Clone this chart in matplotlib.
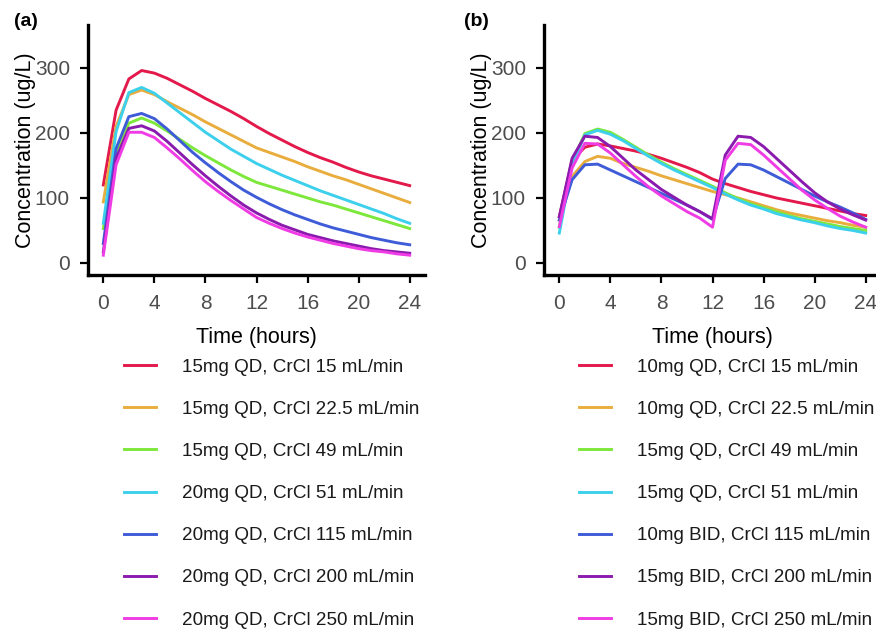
import matplotlib
matplotlib.use("Agg")
import matplotlib.pyplot as plt

plt.rcParams['font.family'] = ['Liberation Sans', 'DejaVu Sans']

# time grid (hours)
times = list(range(25))

# panel (a) - simulated profiles
labels_a = ["15mg QD, CrCl 15 mL/min", "15mg QD, CrCl 22.5 mL/min", "15mg QD, CrCl 49 mL/min",
            "20mg QD, CrCl 51 mL/min", "20mg QD, CrCl 115 mL/min", "20mg QD, CrCl 200 mL/min",
            "20mg QD, CrCl 250 mL/min"]
a_red = [120, 235, 283, 296, 292, 284, 274, 264, 253, 243, 233, 222, 210, 199, 189, 179, 170, 162, 155, 147, 140, 134, 129, 124, 119]
a_orange = [94, 210, 259, 266, 259, 248, 238, 228, 217, 207, 197, 187, 177, 170, 163, 156, 148, 141, 134, 128, 121, 114, 107, 100, 93]
a_green = [53, 171, 215, 223, 215, 203, 190, 177, 165, 154, 143, 133, 124, 118, 112, 106, 100, 94, 89, 83, 77, 71, 65, 59, 53]
a_cyan = [61, 202, 262, 270, 261, 246, 231, 216, 201, 188, 175, 164, 153, 144, 135, 127, 119, 111, 104, 97, 90, 83, 76, 68, 61]
a_blue = [30, 176, 225, 230, 222, 206, 188, 170, 154, 139, 125, 112, 101, 91, 82, 74, 67, 60, 54, 49, 44, 39, 35, 31, 28]
a_purple = [17, 161, 207, 211, 203, 187, 169, 151, 134, 118, 103, 89, 77, 67, 58, 51, 44, 39, 34, 30, 26, 22, 19, 17, 15]
a_magenta = [12, 151, 201, 201, 193, 177, 160, 142, 125, 110, 96, 83, 70, 61, 53, 46, 40, 35, 30, 26, 22, 19, 17, 14, 12]

# panel (b) - adjusted regimens
labels_b = ["10mg QD, CrCl 15 mL/min", "10mg QD, CrCl 22.5 mL/min", "15mg QD, CrCl 49 mL/min",
            "15mg QD, CrCl 51 mL/min", "10mg BID, CrCl 115 mL/min", "15mg BID, CrCl 200 mL/min",
            "15mg BID, CrCl 250 mL/min"]
b_red = [71, 158, 178, 183, 180, 176, 172, 167, 161, 154, 147, 139, 129, 122, 116, 110, 105, 100, 96, 92, 88, 84, 80, 76, 73]
b_orange = [66, 133, 156, 164, 161, 153, 147, 141, 134, 128, 122, 116, 110, 105, 100, 94, 88, 82, 77, 73, 69, 65, 62, 58, 55]
b_green = [55, 155, 199, 206, 201, 190, 178, 166, 155, 145, 136, 127, 118, 108, 99, 91, 85, 79, 73, 68, 64, 60, 56, 53, 50]
b_cyan = [46, 150, 197, 204, 198, 188, 176, 164, 153, 143, 134, 125, 116, 106, 97, 89, 83, 76, 71, 66, 62, 57, 53, 50, 46]
b_blue = [66, 128, 151, 152, 143, 134, 125, 116, 107, 98, 89, 79, 67, 130, 152, 151, 143, 133, 123, 113, 103, 94, 86, 77, 67]
b_purple = [71, 161, 195, 193, 179, 161, 143, 128, 113, 101, 89, 79, 68, 166, 195, 193, 179, 161, 143, 125, 108, 94, 83, 74, 66]
b_magenta = [56, 146, 184, 183, 169, 151, 133, 117, 103, 91, 79, 69, 55, 158, 184, 182, 166, 148, 130, 112, 97, 84, 72, 63, 55]

colors = ['#E3194B', '#E9AD3D', '#7DE83B', '#3DD0EC', '#3F5CD8', '#8A1BAE', '#F03CE4']

fig = plt.figure(figsize=(8.76, 6.32), dpi=100)
W, H = 876.0, 632.0

def make_axes(left_px, series, labels, tag, tag_x, leg_x):
    ax = fig.add_axes([left_px / W, 1 - 275 / H, 337 / W, 250 / H])
    for s, lab, c in zip(series, labels, colors):
        ax.plot(times, s, color=c, lw=2.1, label=lab)
    ax.set_xlim(-1.2, 25.2)
    ax.set_ylim(-18.5, 366)
    ax.set_xticks([0, 4, 8, 12, 16, 20, 24])
    ax.set_yticks([0, 100, 200, 300])
    for side in ['top', 'right']:
        ax.spines[side].set_visible(False)
    for side in ['left', 'bottom']:
        ax.spines[side].set_linewidth(2.4)
        ax.spines[side].set_color('black')
    ax.tick_params(axis='both', length=6, width=1.6, color='black',
                   labelsize=15, labelcolor='#4D4D4D')
    ax.tick_params(axis='y', pad=7)
    ax.tick_params(axis='x', pad=8)
    ax.set_xlabel('Time (hours)', fontsize=15.5, color='black')
    ax.set_ylabel('Concentration (ug/L)', fontsize=15.5, color='black')
    ax.yaxis.set_label_coords(-0.155, 0.5)
    ax.xaxis.set_label_coords(0.5, -0.21)
    fig.text(tag_x / W, 1 - 21 / H, tag, fontsize=14, fontweight='bold', va='center')
    ax.legend(loc='center left', bbox_to_anchor=(leg_x / W, 1 - 493.5 / H),
              bbox_transform=fig.transFigure, frameon=False, fontsize=13.6,
              handlelength=1.7, handletextpad=1.35, labelspacing=1.32,
              borderpad=0, borderaxespad=0, labelcolor='#1A1A1A')
    return ax

ax1 = make_axes(88, [a_red, a_orange, a_green, a_cyan, a_blue, a_purple, a_magenta],
                labels_a, '(a)', 14, 124)
ax2 = make_axes(544, [b_red, b_orange, b_green, b_cyan, b_blue, b_purple, b_magenta],
                labels_b, '(b)', 464, 579)

plt.savefig('out.png', dpi=100)
